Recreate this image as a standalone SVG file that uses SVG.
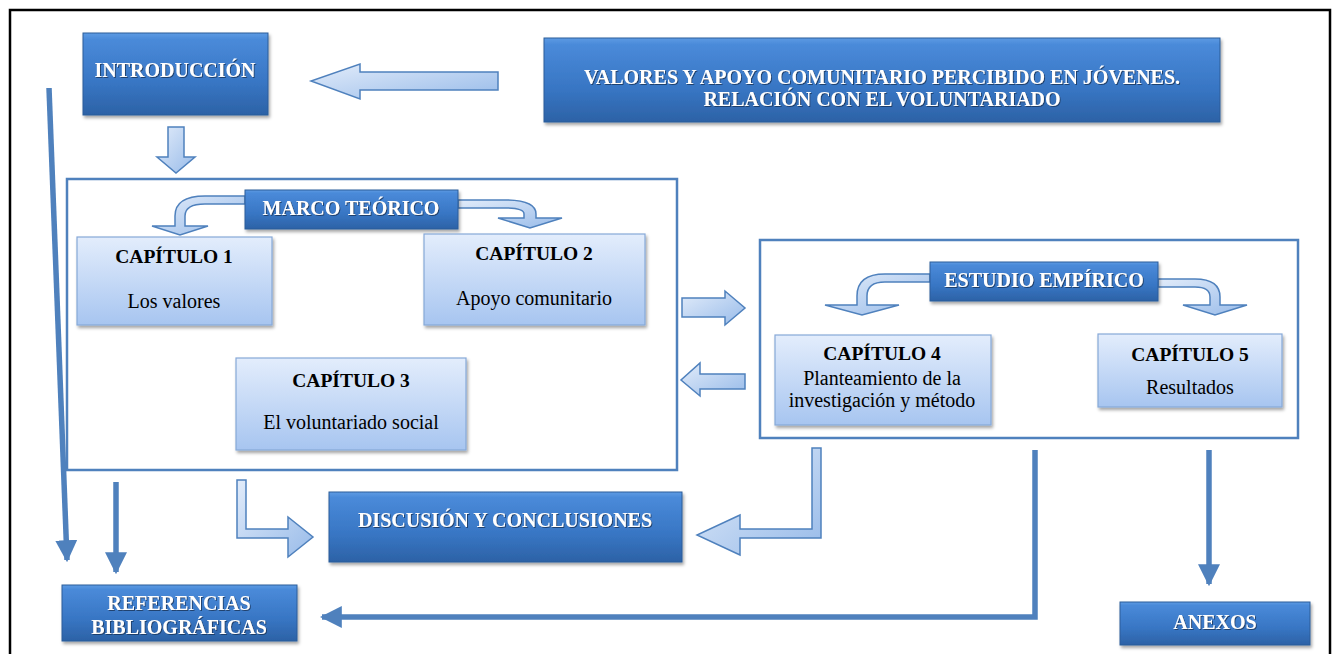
<svg xmlns="http://www.w3.org/2000/svg" width="1338" height="654" viewBox="0 0 1338 654">
<defs>
<linearGradient id="gDark" x1="0" y1="0" x2="0" y2="1">
<stop offset="0" stop-color="#5d9be3"/>
<stop offset="0.08" stop-color="#4a8ad9"/>
<stop offset="0.6" stop-color="#3876c4"/>
<stop offset="1" stop-color="#2c62a6"/>
</linearGradient>
<linearGradient id="gLight" x1="0" y1="0" x2="0" y2="1">
<stop offset="0" stop-color="#e3edfc"/>
<stop offset="1" stop-color="#a7c5f0"/>
</linearGradient>
<linearGradient id="gArrow" x1="0" y1="0" x2="1" y2="1">
<stop offset="0" stop-color="#e2ecfa"/>
<stop offset="1" stop-color="#98bbe9"/>
</linearGradient>
<filter id="shadow" x="-10%" y="-10%" width="120%" height="130%">
<feDropShadow dx="1.5" dy="2.5" stdDeviation="1.5" flood-color="#000" flood-opacity="0.35"/>
</filter>
<filter id="tshadow" x="-5%" y="-20%" width="110%" height="150%">
<feDropShadow dx="1" dy="1" stdDeviation="0.6" flood-color="#1b3558" flood-opacity="0.8"/>
</filter>
<marker id="ah" viewBox="0 0 10 10" refX="9" refY="5" markerWidth="4" markerHeight="4" orient="auto" markerUnits="strokeWidth">
<path d="M0,0 L10,5 L0,10 Z" fill="#4f81bd"/>
</marker>
</defs>
<style>
.dark{fill:url(#gDark);stroke:#2c5d99;stroke-width:1;filter:url(#shadow)}
.light{fill:url(#gLight);stroke:#86a9d8;stroke-width:1.2;filter:url(#shadow)}
.frame{fill:none;stroke:#4f81bd;stroke-width:2.5}
.wt{font-family:"Liberation Serif","Times New Roman",serif;font-weight:bold;fill:#fff;font-size:20px;text-anchor:middle;filter:url(#tshadow)}
.bt{font-family:"Liberation Serif","Times New Roman",serif;font-weight:bold;fill:#000;font-size:19.5px;text-anchor:middle}
.nt{font-family:"Liberation Serif","Times New Roman",serif;fill:#000;font-size:20px;text-anchor:middle}
.fat{fill:url(#gArrow);stroke:#4f81bd;stroke-width:1.5;stroke-linejoin:miter}
.thin{fill:none;stroke:#4f81bd;stroke-width:5.5;marker-end:url(#ah)}
</style>
<rect x="0" y="0" width="1338" height="654" fill="#fff"/>
<rect x="10" y="10" width="1320" height="660" fill="none" stroke="#000" stroke-width="2.5"/>

<g id="frames">
<rect id="marco-frame" class="frame" x="67" y="179" width="610" height="291"/>
<rect id="estudio-frame" class="frame" x="760" y="240" width="538" height="198"/>
</g>

<g id="connectors">
<path class="fat" d="M498,72 L360,72 L360,64 L311,81 L360,99 L360,90 L498,90 Z"/>
<path class="fat" d="M168,127 L184,127 L184,157 L195,157 L176,173 L157,157 L168,157 Z"/>
<path class="fat" d="M245,196 L205,196 Q175,196 175,216 L175,226 L152,226 L180,235 L208,226 L185,226 L185,216 Q185,204 205,204 L245,204 Z"/>
<path class="fat" d="M458,200 L505,200 Q536,200 536,214 L536,218 L562,218 L530,228 L498,218 L524,218 L524,214 Q524,208 505,208 L458,208 Z"/>
<path class="fat" d="M930,274 L885,274 Q857,274 857,296 L857,305 L825,305 L862,315 L899,305 L867,305 L867,296 Q867,282 885,282 L930,282 Z"/>
<path class="fat" d="M1158,279 L1195,279 Q1220,279 1220,297 L1220,305 L1247,305 L1215,315 L1183,305 L1210,305 L1210,297 Q1210,287 1195,287 L1158,287 Z"/>
<path class="fat" d="M682,298 L725,298 L725,291 L745,308 L725,325 L725,317 L682,317 Z"/>
<path class="fat" d="M745,374 L700,374 L700,363 L681,380 L700,396 L700,389 L745,389 Z"/>
<path class="fat" d="M237,480 L246,480 L246,529 L288,529 L288,517 L313,537 L288,557 L288,538 L237,538 Z"/>
<path class="fat" d="M821,448 L812,448 L812,529 L740,529 L740,515 L697,535 L740,555 L740,538 L821,538 Z"/>
<path class="thin" d="M49,88 L67,560"/>
<path class="thin" d="M116,482 L116,572"/>
<path class="thin" d="M1209,450 L1209,584"/>
<path class="thin" d="M1035,450 L1035,617 L322,617"/>
</g>

<g id="introduccion">
<rect class="dark" x="83" y="33" width="185" height="82"/>
<text class="wt" x="175" y="77">INTRODUCCIÓN</text>
</g>
<g id="titulo">
<rect class="dark" x="544" y="38" width="676" height="84"/>
<text class="wt" x="882" y="84">VALORES Y APOYO COMUNITARIO PERCIBIDO EN JÓVENES.</text>
<text class="wt" x="882" y="106">RELACIÓN CON EL VOLUNTARIADO</text>
</g>
<g id="marco-teorico">
<rect class="dark" x="245" y="190" width="213" height="39"/>
<text class="wt" x="351" y="215">MARCO TEÓRICO</text>
</g>
<g id="capitulo1">
<rect class="light" x="77" y="237" width="195" height="88"/>
<text class="bt" x="174" y="263">CAPÍTULO 1</text>
<text class="nt" x="174" y="308">Los valores</text>
</g>
<g id="capitulo2">
<rect class="light" x="424" y="234" width="221" height="91"/>
<text class="bt" x="534" y="260">CAPÍTULO 2</text>
<text class="nt" x="534" y="305">Apoyo comunitario</text>
</g>
<g id="capitulo3">
<rect class="light" x="236" y="358" width="230" height="92"/>
<text class="bt" x="351" y="387">CAPÍTULO 3</text>
<text class="nt" x="351" y="429">El voluntariado social</text>
</g>
<g id="estudio-empirico">
<rect class="dark" x="930" y="262" width="228" height="39"/>
<text class="wt" x="1044" y="287">ESTUDIO EMPÍRICO</text>
</g>
<g id="capitulo4">
<rect class="light" x="775" y="335" width="216" height="90"/>
<text class="bt" x="882" y="360">CAPÍTULO 4</text>
<text class="nt" x="882" y="385">Planteamiento de la</text>
<text class="nt" x="882" y="407">investigación y método</text>
</g>
<g id="capitulo5">
<rect class="light" x="1098" y="334" width="184" height="73"/>
<text class="bt" x="1190" y="361">CAPÍTULO 5</text>
<text class="nt" x="1190" y="394">Resultados</text>
</g>
<g id="discusion">
<rect class="dark" x="329" y="492" width="353" height="70"/>
<text class="wt" x="505" y="527">DISCUSIÓN Y CONCLUSIONES</text>
</g>
<g id="referencias">
<rect class="dark" x="62" y="585" width="235" height="56"/>
<text class="wt" x="179" y="610">REFERENCIAS</text>
<text class="wt" x="179" y="634">BIBLIOGRÁFICAS</text>
</g>
<g id="anexos">
<rect class="dark" x="1120" y="602" width="190" height="43"/>
<text class="wt" x="1215" y="629">ANEXOS</text>
</g>
</svg>
